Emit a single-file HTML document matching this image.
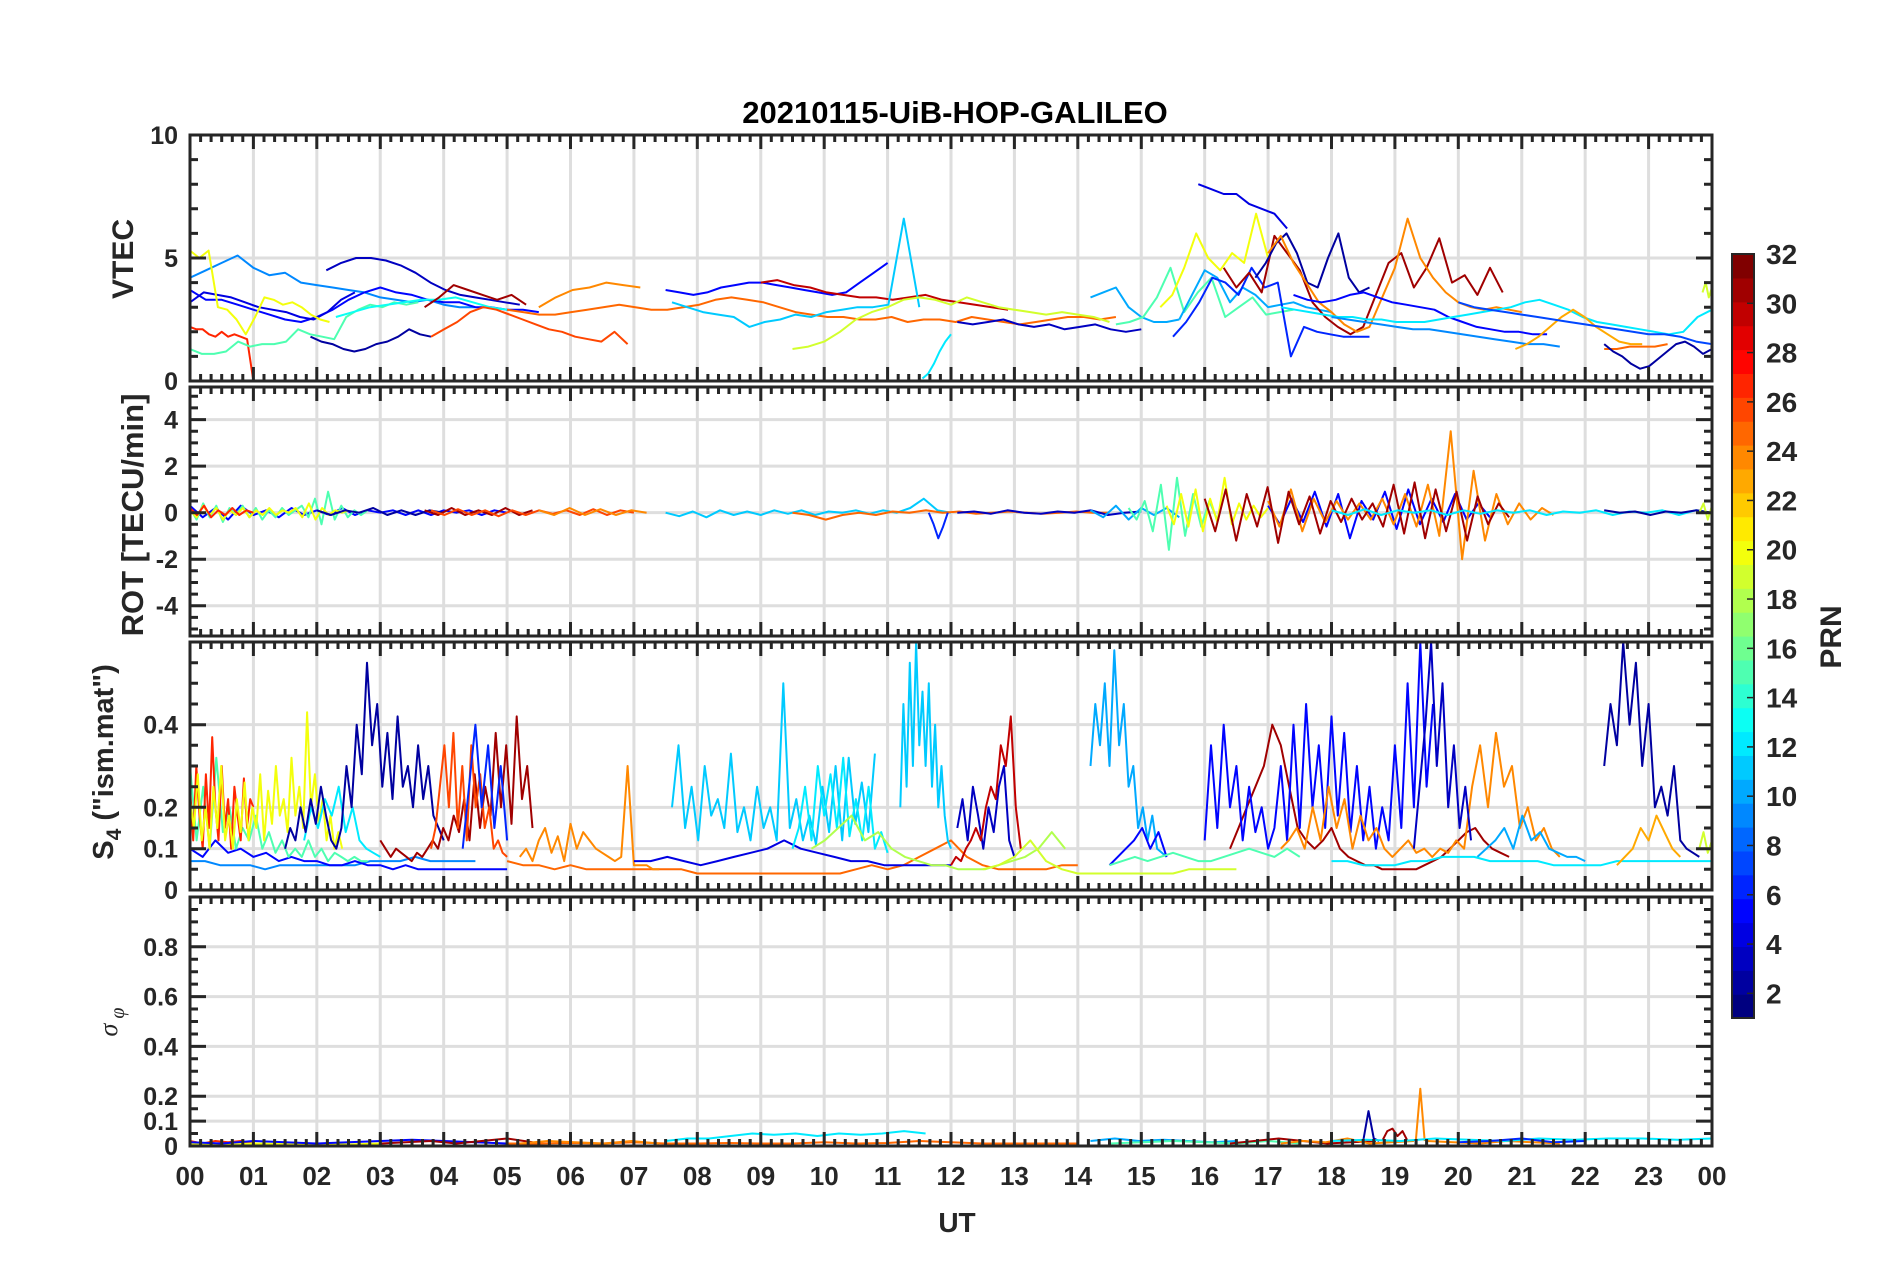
<!DOCTYPE html>
<html><head><meta charset="utf-8"><title>20210115-UiB-HOP-GALILEO</title>
<style>
html,body{margin:0;padding:0;background:#fff;}
svg{display:block;font-family:"Liberation Sans",Arial,sans-serif;}
</style></head>
<body>
<svg id="chart" width="1902" height="1272" viewBox="0 0 1902 1272" xmlns="http://www.w3.org/2000/svg">
<text x="955" y="123" font-size="31" font-weight="bold" text-anchor="middle" fill="#000">20210115-UiB-HOP-GALILEO</text>
<text x="957" y="1232" font-size="28" font-weight="bold" text-anchor="middle" fill="#262626">UT</text>
<text transform="translate(133,259) rotate(-90)" font-size="30" font-weight="bold" text-anchor="middle" fill="#262626">VTEC</text>
<text transform="translate(143,515) rotate(-90)" font-size="31" font-weight="bold" text-anchor="middle" fill="#262626">ROT [TECU/min]</text>
<text transform="translate(113,762) rotate(-90)" font-size="29" font-weight="bold" text-anchor="middle" fill="#262626">S<tspan font-size="21" dy="8">4</tspan><tspan dy="-8"> ("ism.mat")</tspan></text>
<text transform="translate(117,1022) rotate(-90)" font-size="26" font-style="italic" font-family="'Liberation Serif',serif" text-anchor="middle" fill="#262626">σ<tspan font-size="20" dy="7"> φ</tspan></text>
<text transform="translate(1841,637) rotate(-90)" font-size="30" font-weight="bold" text-anchor="middle" fill="#262626">PRN</text>
<g id="layer"></g>
</svg>
<script>
// ---------- data ----------
const hourLabels = ['00','01','02','03','04','05','06','07','08','09','10','11','12','13','14','15','16','17','18','19','20','21','22','23','00'];
const vtecTicks = [0,5,10];
const rotTicks = [-4,-2,0,2,4];
const s4Ticks = [0,0.1,0.2,0.4];
const sigTicks = [0,0.1,0.2,0.4,0.6,0.8];
const cbTicks = [2,4,6,8,10,12,14,16,18,20,22,24,26,28,30,32];

const vtecTracks = [
{p:9,t0:0,t1:4.5,v:[4.2,4.5,4.8,5.1,4.6,4.3,4.4,4.0,3.9,3.8,3.7,3.6,3.4,3.3,3.2,3.3,3.1,3.0,3.0]},
{p:5,t0:0,t1:5.5,v:[3.7,3.3,3.3,3.1,2.9,2.7,2.5,2.4,2.6,2.9,3.3,3.6,3.8,3.6,3.5,3.3,3.2,3.2,3.0,3.0,2.9,2.9,2.8]},
{p:4,t0:0,t1:2.6,v:[3.2,3.6,3.5,3.4,3.2,3.0,2.9,2.8,2.6,2.5,2.8,3.3,3.6]},
{p:20,t0:0,t1:2.2,v:[5.3,5.0,5.3,3.0,2.9,2.5,1.9,2.6,3.4,3.3,3.1,3.2,3.0,2.7,2.5,2.4]},
{p:27,t0:0,t1:1.0,v:[2.2,2.1,2.1,1.9,1.8,2.0,1.8,1.9,1.8,1.7,0]},
{p:15,t0:0,t1:3.6,v:[1.3,1.1,1.1,1.2,1.6,1.4,1.5,1.5,1.6,2.1,1.9,1.8,1.7,2.6,2.9,3.1,3.0,3.2,3.1,3.2]},
{p:2,t0:1.9,t1:3.8,v:[1.8,1.6,1.5,1.3,1.2,1.3,1.5,1.6,1.8,2.1,1.9,1.8]},
{p:3,t0:2.15,t1:5.2,v:[4.5,4.8,5.0,5.0,4.9,4.7,4.4,4.0,3.7,3.5,3.4,3.3,3.2,3.1]},
{p:13,t0:2.3,t1:5,v:[2.6,2.8,3.0,3.1,3.2,3.3,3.3,3.4,3.2,3.0,2.9]},
{p:31,t0:3.7,t1:5.3,v:[3.0,3.4,3.9,3.7,3.5,3.3,3.5,3.1]},
{p:26,t0:3.8,t1:6.9,v:[1.8,2.1,2.4,2.8,3.0,2.9,2.7,2.5,2.3,2.1,2.0,1.8,1.7,1.6,2.0,1.5]},
{p:24,t0:5.5,t1:7.1,v:[3.0,3.4,3.7,3.8,4.0,3.9,3.8]},
{p:25,t0:5.0,t1:14.6,v:[2.9,2.8,2.7,2.7,2.8,2.9,3.0,3.1,3.0,2.9,2.9,3.0,3.1,3.3,3.4,3.3,3.2,3.0,2.8,2.7,2.6,2.6,2.5,2.5,2.6,2.4,2.5,2.5,2.4,2.6,2.5,2.4,2.3,2.4,2.5,2.6,2.6,2.5,2.6]},
{p:5,t0:7.5,t1:11.0,v:[3.7,3.6,3.5,3.6,3.8,3.9,4.0,4.0,3.9,3.8,3.7,3.6,3.5,3.6,4.0,4.4,4.8]},
{p:30,t0:9.0,t1:12.9,v:[4.0,4.1,3.9,3.8,3.6,3.5,3.4,3.4,3.3,3.4,3.5,3.3,3.2,3.1,3.0,2.9]},
{p:11,t0:7.6,t1:11.5,v:[3.2,3.0,2.8,2.7,2.6,2.2,2.4,2.5,2.7,2.6,2.8,2.9,3.0,3.0,3.1,6.6,3.0]},
{p:19,t0:9.5,t1:14.5,v:[1.3,1.4,1.6,2.0,2.5,2.8,3.0,3.3,3.4,3.3,3.1,3.4,3.2,3.0,2.9,2.8,2.7,2.8,2.7,2.6,2.4]},
{p:12,t0:11.55,t1:12.0,v:[0.1,0.3,0.7,1.2,1.6,1.9]},
{p:3,t0:12.1,t1:15.0,v:[2.4,2.3,2.4,2.5,2.3,2.2,2.3,2.1,2.2,2.3,2.1,2.0,2.1]},
{p:10,t0:14.2,t1:15.6,v:[3.4,3.6,3.8,3.0,2.6,2.4,2.4,2.5]},
{p:15,t0:14.6,t1:17.4,v:[2.3,2.4,2.6,3.4,4.6,2.8,3.6,4.2,2.6,3.0,3.4,2.7,2.8,2.9]},
{p:20,t0:15.3,t1:17.0,v:[3.0,3.5,4.6,6.0,5.0,4.5,5.2,4.8,6.8,5.0]},
{p:4,t0:15.9,t1:17.3,v:[8.0,7.8,7.6,7.6,7.2,7.0,6.8,6.2]},
{p:10,t0:15.6,t1:18.0,v:[2.5,3.5,4.5,4.2,3.2,3.8,3.5,3.0,3.1,3.2,3.0,2.9,2.8]},
{p:6,t0:15.5,t1:18.6,v:[1.8,2.4,3.2,4.2,4.0,3.5,4.6,3.8,4.0,1.0,2.2,2.0,1.9,1.8,1.8,1.8]},
{p:31,t0:16.3,t1:20.7,v:[4.6,3.8,4.4,3.6,5.9,5.2,4.5,3.2,2.6,2.2,1.9,2.2,3.5,4.8,5.2,3.8,4.6,5.8,4.0,4.3,3.5,4.6,3.6]},
{p:2,t0:16.8,t1:18.6,v:[4.2,4.8,5.6,6.0,5.2,4.0,3.8,5.0,6.0,4.2,3.6,3.8]},
{p:24,t0:17.0,t1:21.0,v:[5.2,5.9,4.8,4.0,3.2,2.8,2.3,2.0,2.2,3.4,4.6,6.6,5.0,4.2,3.6,3.2,3.0,2.9,3.0,2.9,2.8]},
{p:5,t0:17.4,t1:21.4,v:[3.5,3.3,3.2,3.3,3.5,3.6,3.4,3.2,3.1,3.0,2.9,2.6,2.4,2.2,2.1,2.0,2.0,1.9,1.9]},
{p:12,t0:17.2,t1:24,v:[3.0,2.9,2.8,2.7,2.6,2.6,2.5,2.5,2.4,2.4,2.4,2.5,2.6,2.7,2.8,2.9,3.0,3.2,3.3,3.1,2.9,2.6,2.4,2.3,2.2,2.1,2.0,1.9,2.0,2.6,2.9]},
{p:9,t0:18.0,t1:21.6,v:[2.6,2.5,2.4,2.3,2.2,2.1,2.1,2.0,1.9,1.8,1.7,1.6,1.5,1.5,1.4]},
{p:23,t0:20.9,t1:22.9,v:[1.3,1.5,1.8,2.2,2.6,2.9,2.6,2.2,1.9,1.6,1.5,1.5]},
{p:25,t0:22.3,t1:23.3,v:[1.3,1.3,1.4,1.4,1.4,1.5]},
{p:7,t0:20.0,t1:24,v:[3.2,3.0,2.9,2.8,2.7,2.6,2.5,2.4,2.3,2.2,2.1,2.0,1.9,1.9,1.8,1.6,1.5]},
{p:2,t0:22.3,t1:24,v:[1.5,1.2,1.0,0.7,0.5,0.6,0.9,1.2,1.5,1.6,1.4,1.1,1.3]},
{p:19,t0:23.85,t1:24,v:[3.6,4.0,3.4,3.8]}
];

const rotTracks = [
{p:5,t0:0,t1:5,v:[0.3,-0.2,0.2,-0.3,0.3,-0.1,0.1,-0.2,0.2,-0.1,0.1,-0.1,0.2,-0.1,0.1,0.0,0.1,-0.1,0.1,-0.1,0.1,0.0,0.1,-0.1,0.1,0.0]},
{p:15,t0:0,t1:2.8,v:[0.2,-0.3,0.4,-0.2,0.3,-0.4,0.2,-0.1,0.3,-0.2,0.2,-0.3,0.1,-0.2,0.2,-0.1,0.1,0.3,-0.2,0.6,-0.5,0.9,-0.3,0.3,-0.2,0.1,-0.1,0.1]},
{p:20,t0:0,t1:2.5,v:[0.1,-0.2,0.3,-0.1,0.2,-0.3,0.1,-0.1,0.2,-0.2,0.1,-0.1,0.2,-0.1,0.1,0.0,0.2,-0.2,0.4,-0.3,0.2,-0.1,0.1,0.0,0.1]},
{p:27,t0:0,t1:1,v:[0.2,-0.1,0.3,-0.2,0.1,-0.1,0.2,-0.1,0.1,0.0]},
{p:2,t0:2,t1:4,v:[0.1,-0.1,0.1,0.0,0.2,-0.1,0.1,-0.1,0.1,0.0]},
{p:31,t0:3.7,t1:5.4,v:[0.1,-0.1,0.2,-0.1,0.1,-0.1,0.2,-0.1,0.1]},
{p:26,t0:3.8,t1:7,v:[0.1,-0.1,0.15,-0.1,0.1,-0.15,0.1,-0.1,0.1,-0.05,0.1,-0.1,0.15,-0.1,0.1,0.0]},
{p:24,t0:5.5,t1:7.2,v:[0.1,-0.1,0.2,-0.1,0.15,-0.1,0.1,0.0]},
{p:11,t0:7.5,t1:12,v:[0.0,-0.15,0.05,-0.2,0.1,-0.1,0.05,-0.1,0.1,-0.05,0.1,-0.1,0.05,0.0,0.1,-0.05,0.1,0.0,0.2,0.6,0.1,0.0]},
{p:25,t0:9.5,t1:14.5,v:[0.0,-0.1,-0.3,-0.1,0.0,-0.1,0.05,0.0,0.1,0.0,0.05,-0.05,0.0,0.05,0.0,-0.05,0.0,0.05,0.0,0.0]},
{p:6,t0:11.65,t1:11.95,v:[0.0,-0.5,-1.1,-0.6,0.0]},
{p:3,t0:12.1,t1:15,v:[0.0,0.05,-0.05,0.1,0.0,-0.05,0.05,0.0,0.1,-0.1,0.0,0.05]},
{p:10,t0:14.2,t1:15.6,v:[0.1,-0.2,0.3,-0.3,0.2,-0.1,0.2,-0.2]},
{p:15,t0:14.8,t1:16.2,v:[0.2,-0.3,0.5,-0.8,1.2,-1.6,1.5,-1.0,0.8,-0.6,0.5,-0.3]},
{p:20,t0:15.4,t1:17.0,v:[0.3,-0.5,0.8,-0.6,1.0,-0.8,0.6,-0.4,1.5,-0.5,0.4,-0.3,0.3,-0.2,0.2]},
{p:5,t0:17.0,t1:20.5,v:[0.3,-0.5,0.6,-0.4,0.9,-0.6,0.8,-1.1,0.5,-0.3,0.9,-0.7,1.0,-0.5,0.6,-0.4,0.8,-0.3,0.4,-0.2]},
{p:24,t0:17.0,t1:21.5,v:[0.5,-0.6,1.0,-0.8,0.6,-0.4,0.5,-0.3,0.4,-0.3,0.6,-0.5,0.8,-0.6,1.2,-1.0,3.5,-2.0,1.8,-1.2,0.8,-0.5,0.4,-0.3,0.2,-0.1]},
{p:31,t0:16.0,t1:20.8,v:[0.6,-0.8,1.0,-1.2,0.8,-0.6,1.1,-1.3,0.9,-0.5,0.7,-0.9,0.5,-0.4,0.6,-0.3,0.4,-0.6,1.2,-0.9,1.3,-1.1,1.0,-0.8,0.9,-1.2,0.7,-0.5,0.4,-0.2]},
{p:12,t0:18,t1:24,v:[0.1,-0.1,0.15,-0.1,0.1,0.0,0.1,-0.1,0.1,-0.05,0.1,0.0,0.1,-0.1,0.05,0.0,0.1,-0.1,0.05,0.0,0.1,-0.1,0.1,0.0]},
{p:2,t0:22.3,t1:24,v:[0.1,0.0,0.05,-0.1,0.05,0.0,0.1,0.0]},
{p:19,t0:23.8,t1:24,v:[0.0,0.4,-0.3,0.3]}
];

const s4Tracks = [
{p:9,t0:0,t1:4.5,v:[0.07,0.07,0.06,0.06,0.06,0.05,0.06,0.06,0.06,0.06,0.06,0.06,0.07,0.07,0.07,0.08,0.07,0.07,0.07,0.07]},
{p:5,t0:0,t1:5,v:[0.10,0.08,0.12,0.09,0.10,0.08,0.09,0.07,0.08,0.07,0.07,0.06,0.06,0.07,0.06,0.06,0.05,0.06,0.05,0.05,0.05,0.05,0.05,0.05,0.05,0.05]},
{p:15,t0:0,t1:2.8,v:[0.30,0.12,0.25,0.10,0.32,0.14,0.20,0.10,0.15,0.12,0.18,0.10,0.14,0.09,0.12,0.08,0.10,0.08,0.12,0.08,0.10,0.07,0.09,0.08,0.07,0.08,0.07,0.07]},
{p:27,t0:0,t1:1,v:[0.25,0.12,0.30,0.18,0.10,0.28,0.15,0.37,0.20,0.12,0.30,0.15,0.22,0.10,0.25,0.18,0.12,0.27,0.15,0.22,0.20]},
{p:20,t0:0,t1:2.4,v:[0.22,0.15,0.28,0.12,0.20,0.10,0.25,0.15,0.30,0.12,0.18,0.10,0.22,0.14,0.26,0.12,0.20,0.15,0.28,0.12,0.24,0.16,0.30,0.18,0.22,0.14,0.32,0.18,0.25,0.15,0.43,0.20,0.28,0.16,0.22,0.12,0.18,0.10,0.14,0.10]},
{p:12,t0:1.8,t1:3.0,v:[0.12,0.20,0.15,0.22,0.18,0.25,0.14,0.20,0.12,0.10,0.09,0.08]},
{p:2,t0:1.5,t1:4.0,v:[0.10,0.15,0.12,0.20,0.14,0.22,0.16,0.25,0.18,0.12,0.10,0.15,0.30,0.20,0.40,0.28,0.55,0.35,0.45,0.25,0.38,0.22,0.42,0.25,0.30,0.20,0.35,0.22,0.30,0.18,0.15,0.12]},
{p:31,t0:3.0,t1:5.4,v:[0.12,0.10,0.08,0.10,0.09,0.08,0.07,0.09,0.08,0.10,0.12,0.10,0.15,0.12,0.18,0.14,0.22,0.12,0.28,0.15,0.25,0.18,0.38,0.20,0.35,0.16,0.42,0.22,0.30,0.15]},
{p:26,t0:3.8,t1:5.0,v:[0.10,0.15,0.25,0.35,0.20,0.38,0.15,0.30,0.12,0.35,0.20,0.28,0.15,0.20,0.10,0.12,0.09,0.08]},
{p:6,t0:4.3,t1:5.0,v:[0.10,0.25,0.40,0.20,0.35,0.15,0.30,0.12]},
{p:25,t0:5,t1:14,v:[0.07,0.06,0.06,0.05,0.06,0.05,0.05,0.05,0.05,0.05,0.05,0.05,0.04,0.04,0.04,0.04,0.04,0.04,0.04,0.04,0.04,0.04,0.05,0.06,0.05,0.06,0.08,0.10,0.12,0.08,0.06,0.05,0.05,0.05,0.05,0.06,0.06]},
{p:24,t0:5.2,t1:7.4,v:[0.08,0.10,0.07,0.12,0.15,0.09,0.13,0.07,0.16,0.10,0.14,0.12,0.10,0.09,0.08,0.07,0.08,0.30,0.06,0.06,0.06,0.05,0.05]},
{p:4,t0:7,t1:12,v:[0.07,0.07,0.08,0.07,0.06,0.07,0.08,0.09,0.10,0.12,0.10,0.09,0.08,0.07,0.07,0.06,0.06,0.06,0.06,0.06]},
{p:11,t0:7.6,t1:10.8,v:[0.20,0.35,0.15,0.25,0.12,0.30,0.18,0.22,0.15,0.33,0.14,0.20,0.12,0.25,0.15,0.20,0.12,0.50,0.15,0.22,0.12,0.18,0.11,0.25,0.14,0.30,0.12,0.32,0.16,0.26,0.14,0.33]},
{p:12,t0:9.5,t1:11.0,v:[0.10,0.15,0.25,0.12,0.30,0.18,0.28,0.15,0.32,0.13,0.22,0.12,0.25,0.10,0.14,0.09]},
{p:18,t0:9.8,t1:13.8,v:[0.10,0.12,0.15,0.18,0.12,0.14,0.10,0.08,0.07,0.06,0.06,0.05,0.05,0.05,0.06,0.07,0.08,0.10,0.14,0.10]},
{p:11,t0:11.2,t1:12.0,v:[0.20,0.45,0.25,0.55,0.30,0.60,0.35,0.48,0.30,0.50,0.25,0.40,0.20,0.30,0.18,0.12,0.10]},
{p:3,t0:12.1,t1:13.0,v:[0.15,0.22,0.12,0.25,0.18,0.10,0.20,0.14,0.25,0.30,0.12,0.08]},
{p:30,t0:12.0,t1:13.1,v:[0.06,0.08,0.07,0.10,0.12,0.15,0.12,0.20,0.25,0.22,0.35,0.30,0.42,0.20,0.10]},
{p:19,t0:12.5,t1:16.5,v:[0.05,0.06,0.08,0.12,0.07,0.05,0.04,0.04,0.04,0.04,0.04,0.04,0.04,0.05,0.05,0.05,0.05]},
{p:10,t0:14.2,t1:15.4,v:[0.30,0.45,0.35,0.50,0.30,0.58,0.35,0.45,0.25,0.30,0.15,0.20,0.12,0.18,0.10,0.09,0.08]},
{p:5,t0:14.5,t1:15.4,v:[0.06,0.08,0.10,0.12,0.15,0.10,0.14,0.08]},
{p:15,t0:14.5,t1:17.5,v:[0.06,0.07,0.08,0.07,0.08,0.09,0.08,0.07,0.07,0.08,0.09,0.10,0.09,0.08,0.10,0.08]},
{p:31,t0:16.4,t1:20.8,v:[0.10,0.15,0.20,0.25,0.30,0.40,0.35,0.25,0.15,0.12,0.10,0.12,0.15,0.10,0.08,0.07,0.06,0.06,0.05,0.05,0.05,0.05,0.05,0.06,0.07,0.08,0.10,0.12,0.14,0.15,0.12,0.10,0.09,0.08]},
{p:5,t0:16.0,t1:19.6,v:[0.12,0.35,0.15,0.40,0.20,0.30,0.12,0.25,0.14,0.20,0.10,0.15,0.30,0.12,0.40,0.15,0.45,0.20,0.35,0.15,0.42,0.18,0.38,0.14,0.30,0.12,0.25,0.10,0.20,0.12,0.35,0.15,0.50,0.20,0.60,0.25,0.45]},
{p:24,t0:17.2,t1:21.6,v:[0.10,0.12,0.15,0.10,0.20,0.12,0.25,0.15,0.22,0.10,0.18,0.12,0.15,0.10,0.08,0.10,0.12,0.09,0.10,0.08,0.10,0.09,0.12,0.10,0.25,0.35,0.20,0.38,0.25,0.30,0.15,0.20,0.12,0.15,0.10,0.08]},
{p:3,t0:19.3,t1:20.2,v:[0.10,0.25,0.40,0.60,0.30,0.50,0.20,0.35,0.15,0.25,0.12]},
{p:10,t0:20.3,t1:22,v:[0.08,0.10,0.12,0.15,0.10,0.18,0.12,0.14,0.10,0.09,0.08,0.08,0.07]},
{p:12,t0:18,t1:24,v:[0.07,0.07,0.06,0.06,0.06,0.07,0.07,0.08,0.08,0.08,0.07,0.07,0.07,0.07,0.06,0.06,0.06,0.06,0.07,0.07,0.07,0.07,0.07,0.07,0.07]},
{p:2,t0:22.3,t1:23.8,v:[0.30,0.45,0.35,0.60,0.40,0.55,0.30,0.45,0.20,0.25,0.18,0.30,0.12,0.10,0.09,0.08]},
{p:23,t0:22.5,t1:23.5,v:[0.06,0.08,0.10,0.15,0.12,0.18,0.14,0.10,0.08]},
{p:19,t0:23.8,t1:24,v:[0.10,0.14,0.09,0.12]}
];

const sigTracks = [
{p:27,t0:0,t1:1,v:[0.02,0.01,0.02,0.015,0.02,0.01]},
{p:20,t0:0,t1:3,v:[0.01,0.005,0.01,0.008,0.01,0.006,0.01]},
{p:5,t0:0,t1:5,v:[0.015,0.01,0.02,0.015,0.01,0.015,0.02,0.025,0.02,0.015,0.01]},
{p:31,t0:3,t1:5.4,v:[0.01,0.015,0.02,0.01,0.02,0.03,0.015]},
{p:25,t0:5,t1:14,v:[0.01,0.01,0.012,0.01,0.015,0.01,0.01,0.012,0.01,0.01,0.015,0.01,0.012,0.02,0.015,0.01,0.01,0.01,0.01]},
{p:24,t0:5.2,t1:7.4,v:[0.01,0.02,0.015,0.01,0.02,0.01]},
{p:12,t0:7.5,t1:11.6,v:[0.02,0.03,0.03,0.04,0.05,0.045,0.05,0.04,0.05,0.045,0.05,0.06,0.05]},
{p:10,t0:14.2,t1:16.5,v:[0.02,0.03,0.02,0.025,0.02,0.015,0.02]},
{p:15,t0:14.5,t1:17.5,v:[0.01,0.015,0.02,0.015,0.01,0.02,0.01]},
{p:2,t0:18.5,t1:18.75,v:[0.02,0.14,0.03,0.02]},
{p:31,t0:16.4,t1:18.7,v:[0.01,0.02,0.03,0.02,0.01,0.015,0.02]},
{p:31,t0:18.8,t1:19.2,v:[0.02,0.06,0.07,0.04,0.06,0.02]},
{p:24,t0:17.2,t1:19.3,v:[0.01,0.02,0.015,0.03,0.01,0.015,0.02]},
{p:24,t0:19.33,t1:19.47,v:[0.02,0.23,0.02]},
{p:24,t0:19.5,t1:21.6,v:[0.02,0.015,0.01,0.02,0.015,0.01]},
{p:12,t0:18,t1:24,v:[0.02,0.025,0.02,0.03,0.025,0.02,0.03,0.025,0.03,0.03,0.025,0.03]},
{p:6,t0:20,t1:22,v:[0.015,0.02,0.03,0.015,0.02]}
];

// ---------- layout ----------
const XL = 190, XR = 1712, TMIN = 0, TMAX = 24;
const panels = [
 {name:'vtec', top:135, bot:381, min:0, max:10, labels:vtecTicks, grid:[5], minor:1, major:5, tracks:vtecTracks},
 {name:'rot', top:387, bot:636, min:-5.3, max:5.4, labels:rotTicks, grid:[-4,-2,0,2,4], minor:0.5, major:2, tracks:rotTracks},
 {name:'s4', top:642, bot:890, min:0, max:0.6, labels:s4Ticks, grid:[0.1,0.2,0.4], minor:0.05, major:null, tracks:s4Tracks},
 {name:'sigma', top:897, bot:1146, min:0, max:1, labels:sigTicks, grid:[0.1,0.2,0.4,0.6,0.8], minor:0.05, major:null, tracks:sigTracks}
];
const NS = 'http://www.w3.org/2000/svg';
const layer = document.getElementById('layer');
function xs(t){ return XL + (t - TMIN) / (TMAX - TMIN) * (XR - XL); }
function ys(P, v){ return P.bot - (v - P.min) / (P.max - P.min) * (P.bot - P.top); }
function jet(prn){
  const f = (prn - 1) / 31;
  const c = k => Math.round(255 * Math.max(0, Math.min(1, 1.5 - Math.abs(4 * f - k))));
  return 'rgb(' + c(3) + ',' + c(2) + ',' + c(1) + ')';
}
function mk(tag, attrs, parent){
  const e = document.createElementNS(NS, tag);
  for (const k in attrs) e.setAttribute(k, attrs[k]);
  (parent || layer).appendChild(e);
  return e;
}
const defs = mk('defs', {});

panels.forEach((P, pi) => {
  const g = mk('g', {});
  
  
  const cp = mk('clipPath', {id:'clip' + pi}, defs);
  mk('rect', {x:XL, y:P.top, width:XR - XL, height:P.bot - P.top}, cp);
  const gg = mk('g', {stroke:'#dedede', 'stroke-width':3}, g);
  
  
  for (let h = 1; h < 24; h++) {
    const gl = mk('line', {x1:xs(h), x2:xs(h), y1:P.top, y2:P.bot}, gg);
    
    
  }
  P.grid.forEach(v => {
    const gl = mk('line', {x1:XL, x2:XR, y1:ys(P, v), y2:ys(P, v)}, gg);
    
    
  });
  const dg = mk('g', {'clip-path':'url(#clip' + pi + ')', fill:'none', 'stroke-width':2, 'stroke-linejoin':'round'}, g);
  
  
  P.tracks.forEach(tr => {
    const n = tr.v.length;
    let d = '';
    tr.v.forEach((v, i) => {
      const t = tr.t0 + (n > 1 ? i * (tr.t1 - tr.t0) / (n - 1) : 0);
      d += (i ? 'L' : 'M') + xs(t).toFixed(1) + ',' + ys(P, v).toFixed(1);
    });
    const path = mk('path', {d:d, stroke:jet(tr.p)}, dg);
    
    
  });
  const ag = mk('g', {stroke:'#262626', fill:'none'}, g);
  
  
  const box = mk('rect', {x:XL, y:P.top, width:XR - XL, height:P.bot - P.top, 'stroke-width':3}, ag);
  
  
  let td = '';
  for (let m = 0; m <= 144; m++) {
    const x = XL + m * (XR - XL) / 144;
    const L = (m % 6 === 0) ? 14 : 7;
    td += 'M' + x.toFixed(1) + ',' + P.top + 'v' + L + 'M' + x.toFixed(1) + ',' + P.bot + 'v-' + L;
  }
  const start = Math.ceil(P.min / P.minor - 1e-6);
  for (let k = start; k * P.minor <= P.max + 1e-9; k++) {
    const v = k * P.minor;
    const y = ys(P, v);
    const isMaj = P.major ? Math.abs(v / P.major - Math.round(v / P.major)) < 1e-6 : P.labels.some(l => Math.abs(l - v) < 1e-6);
    const L = isMaj ? 16 : 8;
    td += 'M' + XL + ',' + y.toFixed(1) + 'h' + L + 'M' + XR + ',' + y.toFixed(1) + 'h-' + L;
  }
  const tk = mk('path', {d:td, 'stroke-width':3}, ag);
  
  
  P.labels.forEach(v => {
    const t = mk('text', {x:178, y:(ys(P, v) + 9).toFixed(1), 'font-size':25, 'font-weight':'bold', 'text-anchor':'end', fill:'#262626'}, g);
    
    
    t.textContent = String(v);
  });
});
hourLabels.forEach((lab, i) => {
  const t = mk('text', {x:xs(i).toFixed(1), y:1185, 'font-size':26, 'font-weight':'bold', 'text-anchor':'middle', fill:'#262626'});
  
  
  t.textContent = lab;
});
const CBX = 1732, CBW = 22, CBT = 254, CBB = 1018, CMIN = 1, CMAX = 32;
function cy(v){ return CBB - (v - CMIN) / (CMAX - CMIN) * (CBB - CBT); }
const cbg = mk('g', {});


for (let k = 1; k <= 32; k++) {
  const h = (CBB - CBT) / 32;
  const r = mk('rect', {x:CBX, y:(CBB - k * h).toFixed(2), width:CBW, height:(h + 0.6).toFixed(2), fill:jet(k)}, cbg);
  
  
}
const cbox = mk('rect', {x:CBX, y:CBT, width:CBW, height:CBB - CBT, fill:'none', stroke:'#262626', 'stroke-width':2}, cbg);


cbTicks.forEach(v => {
  const y = cy(v);
  const l = mk('line', {x1:CBX + CBW - 7, x2:CBX + CBW, y1:y, y2:y, stroke:'#262626', 'stroke-width':1.5}, cbg);
  
  
  const t = mk('text', {x:1766, y:(y + 10).toFixed(1), 'font-size':28, 'font-weight':'bold', fill:'#262626'}, cbg);
  
  
  t.textContent = String(v);
});
</script>
</body></html>
